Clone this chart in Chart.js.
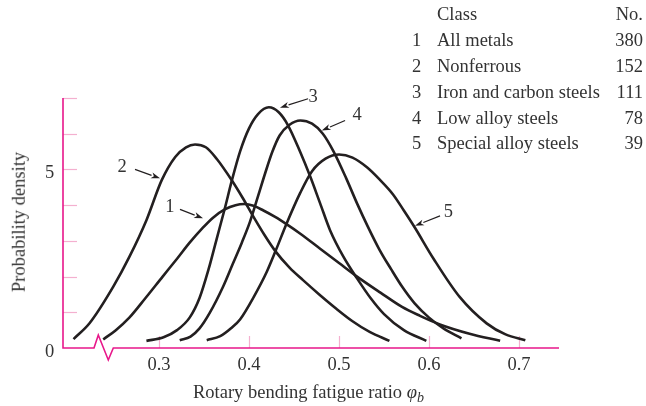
<!DOCTYPE html>
<html><head><meta charset="utf-8">
<script src="https://cdn.jsdelivr.net/npm/chart.js@4/dist/chart.umd.min.js"></script>
<style>
html,body{margin:0;padding:0;background:#fff;}
#wrap{position:relative;width:646px;height:406px;font-family:"Liberation Serif","Times New Roman",serif;color:#333;}
canvas{position:absolute;left:0;top:0;}
.t{position:absolute;white-space:nowrap;font-size:18.5px;line-height:18.5px;}
.r{text-align:right;}
sub{font-size:14px;line-height:0;vertical-align:-4px;}
</style></head><body>
<div id="wrap">
<canvas id="c" width="646" height="406"></canvas>
<div id="legend"></div>
<div class="t" id="xt" style="left:193px;top:382.5px;">Rotary bending fatigue ratio <i>φ<sub>b</sub></i></div>
<div class="t" id="yt" style="left:19px;top:222px;transform:translate(-50%,-50%) rotate(-90deg);">Probability density</div>
</div>
<script>
// ---- data ----
const curve1X = [0.238,0.252,0.267,0.285,0.304,0.320,0.334,0.348,0.360,0.373,0.385,0.395,0.405,0.416,0.429,0.442,0.457,0.479,0.500,0.520,0.546,0.570,0.590,0.612,0.645,0.679];
const curve1Y = [0.24,0.50,0.85,1.40,2.00,2.50,2.95,3.35,3.65,3.88,4.00,4.03,3.98,3.85,3.67,3.46,3.20,2.78,2.38,2.00,1.55,1.15,0.90,0.66,0.40,0.20];

const curve2X = [0.205,0.223,0.249,0.267,0.286,0.303,0.318,0.330,0.340,0.352,0.364,0.381,0.393,0.405,0.417,0.429,0.445,0.460,0.478,0.497,0.515,0.534,0.556];
const curve2Y = [0.25,0.70,1.71,2.55,3.58,4.70,5.35,5.62,5.70,5.62,5.30,4.69,4.20,3.67,3.17,2.72,2.25,1.90,1.50,1.10,0.75,0.45,0.20];

const curve3X = [0.286,0.305,0.320,0.334,0.345,0.355,0.364,0.373,0.381,0.390,0.400,0.410,0.422,0.433,0.443,0.457,0.468,0.479,0.490,0.505,0.520,0.535,0.550,0.572,0.597];
const curve3Y = [0.20,0.30,0.50,0.85,1.40,2.20,3.05,3.90,4.70,5.50,6.15,6.55,6.74,6.60,6.25,5.48,4.80,4.05,3.30,2.55,1.95,1.40,0.95,0.50,0.20];

const curve4X = [0.323,0.335,0.345,0.356,0.371,0.382,0.392,0.401,0.410,0.418,0.426,0.434,0.445,0.457,0.470,0.482,0.494,0.508,0.520,0.532,0.545,0.558,0.570,0.584,0.600,0.616,0.636];
const curve4Y = [0.22,0.32,0.55,0.97,1.71,2.36,2.95,3.53,4.25,4.90,5.50,5.95,6.25,6.37,6.28,6.00,5.50,4.75,4.05,3.40,2.75,2.20,1.72,1.25,0.85,0.55,0.27];

const curve5X = [0.353,0.368,0.380,0.390,0.405,0.420,0.430,0.442,0.457,0.470,0.485,0.500,0.515,0.531,0.545,0.560,0.572,0.584,0.605,0.634,0.664,0.685,0.707];
const curve5Y = [0.22,0.33,0.55,0.80,1.42,2.15,2.75,3.50,4.35,4.95,5.30,5.42,5.33,5.06,4.72,4.30,3.85,3.38,2.50,1.43,0.69,0.38,0.22];

const xTickValues = [0.3,0.4,0.5,0.6,0.7];
const xTickLabels = ['0.3','0.4','0.5','0.6','0.7'];
const yTickValues = [0,1,2,3,4,5,6,7];
const yTickLabels = ['0','','','','','5','',''];

const classNums   = ['1','2','3','4','5'];
const classNames  = ['All metals','Nonferrous','Iron and carbon steels','Low alloy steels','Special alloy steels'];
const classCounts = ['380','152','111','78','39'];

// curve number labels: [label x, label y, arrow tail x, y, arrow head x, y] (data units)
const curveLabels = ['1','2','3','4','5'];
const labelPos = [
  [0.312,3.97, 0.3233,3.88, 0.3489,3.63],
  [0.259,5.11, 0.2733,5.00, 0.3011,4.75],
  [0.4711,7.07, 0.4656,6.98, 0.4344,6.73],
  [0.520,6.56, 0.5067,6.37, 0.4808,6.09],
  [0.6215,3.85, 0.6122,3.70, 0.5844,3.42]
];

// ---- legend table (HTML text) ----
const leg = document.getElementById('legend');
function addText(txt, left, top, right){
  const d = document.createElement('div');
  d.className = 't' + (right !== undefined ? ' r' : '');
  d.textContent = txt;
  d.style.top = top + 'px';
  if (right !== undefined) { d.style.right = right + 'px'; } else { d.style.left = left + 'px'; }
  leg.appendChild(d);
}
addText('Class', 437, 5.3);
addText('No.', 0, 5.3, 3);
classNames.forEach((n,i)=>{
  const top = 5.3 + 26*(i+1) - 0.2*(i+1);
  addText(classNums[i], 412, top);
  addText(n, 437, top);
  addText(classCounts[i], 0, top, 3);
});

// ---- chart ----
const AXIS = '#e8178a';
const TICK = '#f4b0cf';
const INK  = '#231f20';
const FONT = '18.5px "Liberation Serif", "Times New Roman", serif';

function pts(xs, ys){ return xs.map((x,i)=>({x:x, y:ys[i]})); }
const series = [[curve1X,curve1Y],[curve2X,curve2Y],[curve3X,curve3Y],[curve4X,curve4Y],[curve5X,curve5Y]];

const decor = {
  id:'decor',
  beforeDatasetsDraw(chart){
    const ctx = chart.ctx, xs = chart.scales.x, ys = chart.scales.y, a = chart.chartArea;
    ctx.save();
    ctx.strokeStyle = TICK; ctx.lineWidth = 1.2;
    yTickValues.forEach(v=>{
      if (v === 0) return;
      const y = Math.round(ys.getPixelForValue(v)) + 0.5;
      ctx.beginPath(); ctx.moveTo(a.left, y); ctx.lineTo(a.left + 14, y); ctx.stroke();
    });
    xTickValues.forEach(v=>{
      const x = Math.round(xs.getPixelForValue(v)) + 0.5;
      ctx.beginPath(); ctx.moveTo(x, a.bottom); ctx.lineTo(x, a.bottom - 12); ctx.stroke();
    });
    ctx.strokeStyle = AXIS; ctx.lineWidth = 1.6; ctx.lineJoin = 'miter';
    ctx.beginPath();
    ctx.moveTo(a.left, a.top); ctx.lineTo(a.left, a.bottom);
    ctx.lineTo(a.left + 31, a.bottom);
    ctx.lineTo(a.left + 35.3, a.bottom - 13);
    ctx.lineTo(a.left + 45.3, a.bottom + 12);
    ctx.lineTo(a.left + 50.3, a.bottom);
    ctx.lineTo(a.right, a.bottom);
    ctx.stroke();
    // tick labels
    ctx.fillStyle = '#333'; ctx.font = FONT; ctx.textBaseline = 'alphabetic';
    ctx.textAlign = 'center';
    xTickValues.forEach((v,i)=>{
      ctx.fillText(xTickLabels[i], xs.getPixelForValue(v), a.bottom + 22);
    });
    yTickValues.forEach((v,i)=>{
      if (!yTickLabels[i]) return;
      ctx.fillText(yTickLabels[i], 49.5, ys.getPixelForValue(v) + 8.5);
    });
    ctx.restore();
  },
  afterDatasetsDraw(chart){
    const ctx = chart.ctx, xs = chart.scales.x, ys = chart.scales.y;
    ctx.save();
    ctx.fillStyle = '#333'; ctx.strokeStyle = INK; ctx.font = FONT;
    ctx.textAlign = 'center'; ctx.textBaseline = 'alphabetic';
    labelPos.forEach((p,i)=>{
      const lx = xs.getPixelForValue(p[0]), ly = ys.getPixelForValue(p[1]);
      ctx.fillText(curveLabels[i], lx, ly + 6.1);
      const tx = xs.getPixelForValue(p[2]), ty = ys.getPixelForValue(p[3]);
      const hx = xs.getPixelForValue(p[4]), hy = ys.getPixelForValue(p[5]);
      const ang = Math.atan2(hy - ty, hx - tx);
      const L = 9, W = 3;
      const bx = hx - L*Math.cos(ang), by = hy - L*Math.sin(ang);
      ctx.lineWidth = 1.2;
      ctx.beginPath(); ctx.moveTo(tx, ty); ctx.lineTo(bx, by); ctx.stroke();
      ctx.fillStyle = INK;
      ctx.beginPath();
      ctx.moveTo(hx, hy);
      ctx.lineTo(bx + W*Math.sin(ang), by - W*Math.cos(ang));
      ctx.lineTo(hx - (L-2.5)*Math.cos(ang), hy - (L-2.5)*Math.sin(ang));
      ctx.lineTo(bx - W*Math.sin(ang), by + W*Math.cos(ang));
      ctx.closePath(); ctx.fill();
      ctx.fillStyle = '#333';
    });
    ctx.restore();
  }
};

new Chart(document.getElementById('c'), {
  type: 'line',
  data: {
    datasets: series.map((s,i)=>({
      label: classNames[i],
      data: pts(s[0], s[1]),
      borderColor: INK,
      borderWidth: 2.6,
      pointRadius: 0,
      fill: false,
      cubicInterpolationMode: 'monotone',
      borderCapStyle: 'butt'
    }))
  },
  options: {
    responsive: false,
    animation: false,
    devicePixelRatio: 1,
    layout: { padding: { left: 63, right: 87, top: 98, bottom: 58 } },
    plugins: { legend: { display: false }, tooltip: { enabled: false } },
    scales: {
      x: { type: 'linear', min: 0.1933, max: 0.7444, display: false },
      y: { type: 'linear', min: 0, max: 7, display: false }
    }
  },
  plugins: [decor]
});
</script>
</body></html>
